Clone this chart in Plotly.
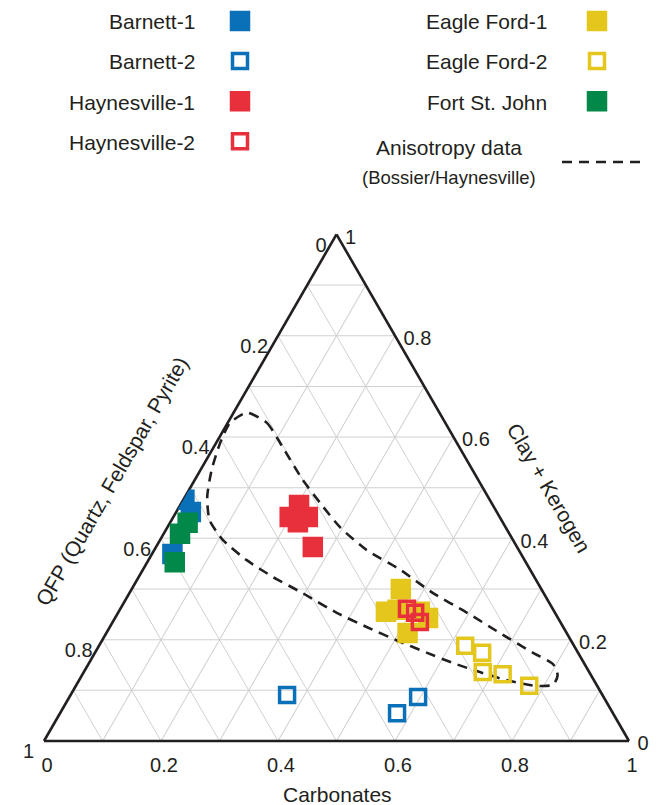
import plotly.graph_objects as go

# ---------------- data (fractions) ----------------
# a = Clay + Kerogen (top), b = QFP (bottom-left), c = Carbonates (bottom-right)
barnett1_clay = [0.476, 0.452, 0.369]
barnett1_qfp = [0.522, 0.523, 0.596]
barnett1_carb = [0.002, 0.025, 0.035]

barnett2_clay = [0.091, 0.055, 0.087]
barnett2_qfp = [0.539, 0.369, 0.317]
barnett2_carb = [0.370, 0.576, 0.596]

haynes1_clay = [0.466, 0.442, 0.442, 0.432, 0.383]
haynes1_qfp = [0.331, 0.359, 0.328, 0.350, 0.349]
haynes1_carb = [0.203, 0.199, 0.230, 0.218, 0.268]

haynes2_clay = [0.261, 0.253, 0.235]
haynes2_qfp = [0.249, 0.239, 0.240]
haynes2_carb = [0.490, 0.508, 0.525]

eagle1_clay = [0.300, 0.255, 0.259, 0.255, 0.243, 0.213]
eagle1_qfp = [0.240, 0.288, 0.266, 0.230, 0.222, 0.272]
eagle1_carb = [0.460, 0.457, 0.475, 0.515, 0.535, 0.515]

eagle2_clay = [0.188, 0.174, 0.136, 0.132, 0.109]
eagle2_qfp = [0.186, 0.164, 0.182, 0.150, 0.116]
eagle2_carb = [0.626, 0.662, 0.682, 0.718, 0.775]

fsj_clay = [0.431, 0.409, 0.353]
fsj_qfp = [0.539, 0.563, 0.600]
fsj_carb = [0.030, 0.028, 0.047]

# Anisotropy data envelope (Bossier/Haynesville), closed loop
aniso_clay = [0.648, 0.628, 0.580, 0.515, 0.470, 0.422, 0.377, 0.338, 0.292, 0.253,
              0.213, 0.174, 0.152, 0.130, 0.111, 0.109, 0.120, 0.136, 0.154, 0.174,
              0.199, 0.225, 0.253, 0.292, 0.324, 0.357, 0.397, 0.436, 0.482, 0.535,
              0.588, 0.628, 0.648]
aniso_carb = [0.023, 0.067, 0.118, 0.185, 0.237, 0.295, 0.363, 0.440, 0.519, 0.597,
              0.673, 0.749, 0.794, 0.813, 0.815, 0.785, 0.731, 0.677, 0.622, 0.568,
              0.503, 0.439, 0.374, 0.296, 0.229, 0.168, 0.107, 0.065, 0.038, 0.019,
              0.007, 0.004, 0.023]
aniso_qfp = [0.329, 0.305, 0.302, 0.300, 0.293, 0.283, 0.260, 0.222, 0.189, 0.150,
             0.114, 0.077, 0.054, 0.057, 0.074, 0.106, 0.149, 0.187, 0.224, 0.258,
             0.298, 0.336, 0.373, 0.412, 0.447, 0.475, 0.496, 0.499, 0.480, 0.446,
             0.405, 0.368, 0.329]

# tick labels
major_ticks = [0.0, 0.2, 0.4, 0.6, 0.8, 1.0]
major_tick_text = ["0", "0.2", "0.4", "0.6", "0.8", "1"]
minor_ticks = [0.1, 0.3, 0.5, 0.7, 0.9]

names = ["Barnett-1", "Barnett-2", "Haynesville-1", "Haynesville-2",
         "Eagle Ford-1", "Eagle Ford-2", "Fort St. John",
         "Anisotropy data", "(Bossier/Haynesville)"]
axis_titles = ["QFP (Quartz, Feldspar, Pyrite)", "Clay + Kerogen", "Carbonates"]

# ---------------- styles ----------------
W, H = 661, 805
FONT = "Liberation Sans, Arial, Helvetica, sans-serif"
TXT = "#231F20"
BLUE = "#0A70B8"
RED = "#E8303D"
YELLOW = "#E4C61C"
GREEN = "#02894A"


def px(x):
    return x / W


def py(y):
    return 1 - y / H


fig = go.Figure()

fig.add_trace(go.Scatterternary(
    a=aniso_clay, b=aniso_qfp, c=aniso_carb, mode="lines", name=" ",
    line=dict(color=TXT, width=2.6, dash="10px,7px", shape="spline", smoothing=0.6),
    legend="legend3", hoverinfo="skip"))


def add_series(label, clay, qfp, carb, color, filled, legend, rank):
    if filled:
        marker = dict(symbol="square", size=16, color=color,
                      line=dict(color=color, width=4.5))
    else:
        marker = dict(symbol="square-open", size=15, color=color,
                      line=dict(color=color, width=3.5))
    fig.add_trace(go.Scatterternary(
        a=clay, b=qfp, c=carb, mode="markers", name=" ", marker=marker,
        legend=legend, legendrank=rank,
        hovertemplate=label + "<br>Clay+Kerogen %{a:.2f}<br>QFP %{b:.2f}"
                      "<br>Carbonates %{c:.2f}<extra></extra>"))


add_series(names[1], barnett2_clay, barnett2_qfp, barnett2_carb, BLUE, False, "legend", 2)
add_series(names[5], eagle2_clay, eagle2_qfp, eagle2_carb, YELLOW, False, "legend2", 2)
add_series(names[0], barnett1_clay, barnett1_qfp, barnett1_carb, BLUE, True, "legend", 1)
add_series(names[6], fsj_clay, fsj_qfp, fsj_carb, GREEN, True, "legend2", 3)
add_series(names[2], haynes1_clay, haynes1_qfp, haynes1_carb, RED, True, "legend", 3)
add_series(names[4], eagle1_clay, eagle1_qfp, eagle1_carb, YELLOW, True, "legend2", 1)
add_series(names[3], haynes2_clay, haynes2_qfp, haynes2_carb, RED, False, "legend", 4)

# each edge is labelled with the component whose vertex lies counter-clockwise
label_for = dict(zip(major_ticks, major_tick_text))
tickvals = major_ticks + minor_ticks


def make_axis(prefix, ticklen):
    ticktext = [prefix + label_for[round(1 - v, 1)] for v in major_ticks] + ["" for _ in minor_ticks]
    return dict(
        title=dict(text=""), tickmode="array", tickvals=tickvals, ticktext=ticktext,
        ticks="outside", ticklen=ticklen, tickcolor="rgba(0,0,0,0)",
        showticklabels=True, tickfont=dict(family=FONT, size=20, color=TXT),
        showgrid=True, gridcolor="#D0D0D0", gridwidth=1,
        showline=True, linecolor=TXT, linewidth=2.6, layer="below traces",
    )


legend_common = dict(bgcolor="rgba(0,0,0,0)", borderwidth=0, xanchor="left",
                     yanchor="top", traceorder="normal",
                     font=dict(family=FONT, size=28.5, color=TXT))

annotations = []
left_rows = [22, 62, 102, 143]
for name, yy in zip(names[:4], left_rows):
    annotations.append(dict(text=name, x=px(197), y=py(yy), xanchor="right", yanchor="middle"))
for name, yy in zip(names[4:7], left_rows[:3]):
    annotations.append(dict(text=name, x=px(549), y=py(yy), xanchor="right", yanchor="middle"))
annotations.append(dict(text=names[7], x=px(449), y=py(148), xanchor="center", yanchor="middle"))
annotations.append(dict(text=names[8], x=px(449), y=py(177), xanchor="center", yanchor="middle",
                        font=dict(family=FONT, size=18.5, color=TXT)))
annotations.append(dict(text=axis_titles[0], x=px(112), y=py(482), textangle=-60,
                        xanchor="center", yanchor="middle"))
annotations.append(dict(text=axis_titles[1], x=px(549), y=py(487), textangle=60,
                        xanchor="center", yanchor="middle"))
annotations.append(dict(text=axis_titles[2], x=px(337), y=py(794),
                        xanchor="center", yanchor="middle"))
for ann in annotations:
    ann.setdefault("font", dict(family=FONT, size=21, color=TXT))
    ann.update(xref="paper", yref="paper", showarrow=False)

fig.update_layout(
    width=W, height=H,
    margin=dict(l=0, r=0, t=0, b=0, autoexpand=False),
    paper_bgcolor="white",
    font=dict(family=FONT, color=TXT),
    ternary=dict(
        domain=dict(x=[px(44), px(629)], y=[py(741), py(234.4)]),
        bgcolor="white", sum=1,
        aaxis=make_axis("<br>", 6),
        baxis=make_axis("", 6),
        caxis=make_axis("<br>", 9),
    ),
    legend=dict(x=px(220), y=py(-4), **legend_common),
    legend2=dict(x=px(577), y=py(-4), **legend_common),
    legend3=dict(x=px(557), y=py(137), itemwidth=80, **legend_common),
    annotations=annotations,
    showlegend=True,
)

fig.write_html(
    "out.html",
    config={"displayModeBar": False},
    post_script="document.body.style.margin='0px';document.body.style.overflow='hidden';",
)
